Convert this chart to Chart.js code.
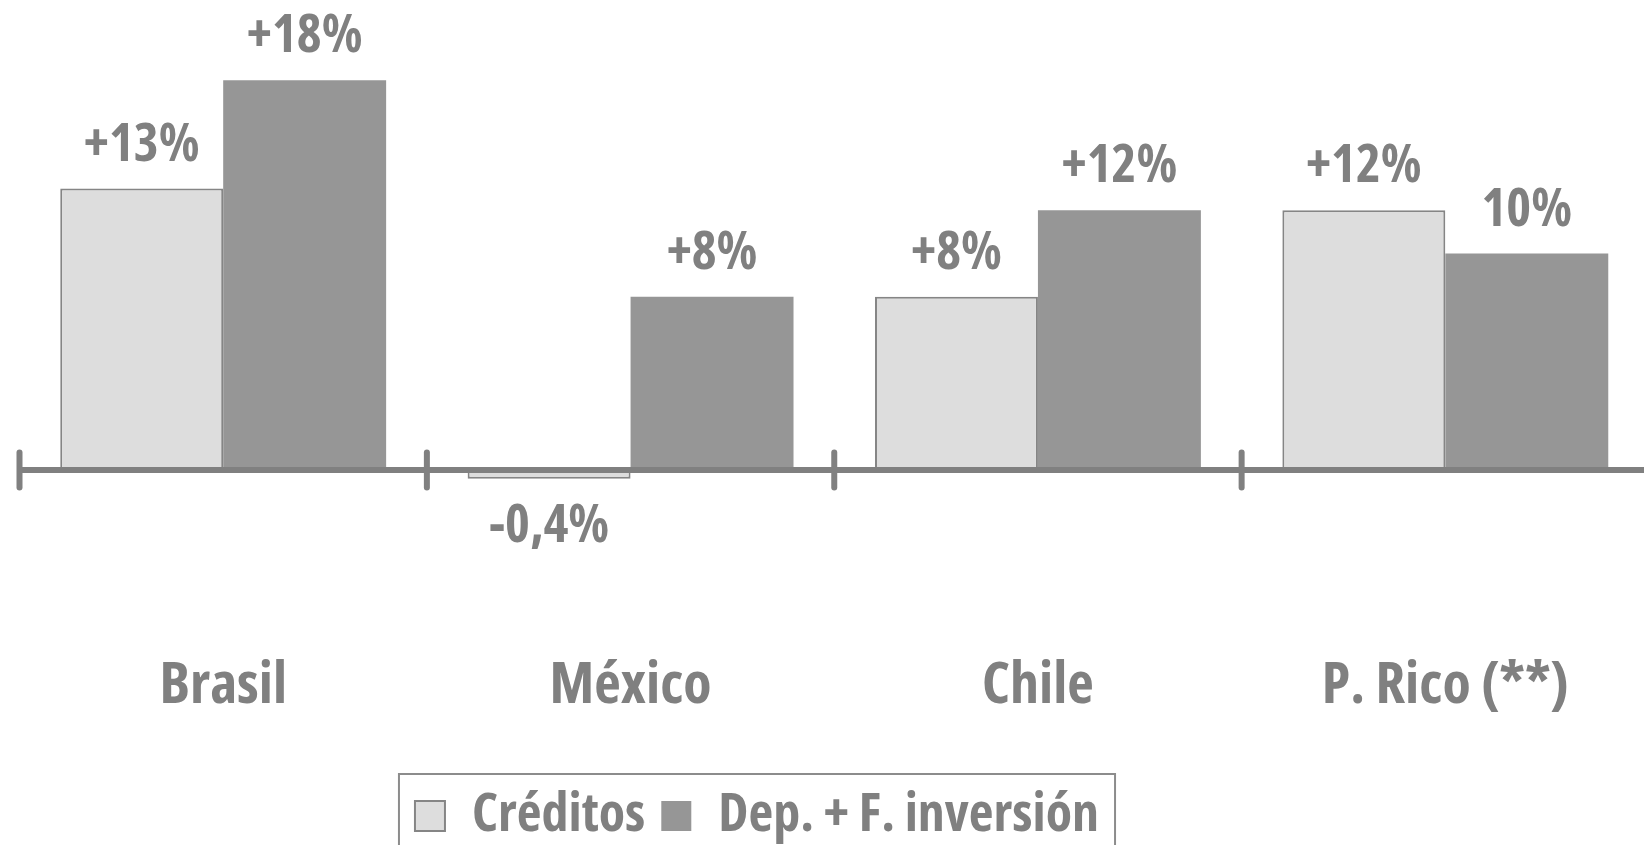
<!DOCTYPE html>
<html>
<head>
<meta charset="utf-8">
<script src="https://cdn.jsdelivr.net/npm/chart.js@4.4.1/dist/chart.umd.min.js"></script>
<style>
  html, body { margin: 0; padding: 0; background: #ffffff; overflow: hidden; }
  #wrap { position: relative; width: 1649px; height: 845px; }
</style>
</head>
<body>
<div id="wrap"><canvas id="c"></canvas></div>
<script>
// ---- data ----
const categories = ['Brasil', 'México', 'Chile', 'P. Rico (**)'];
const seriesNames = ['Créditos', 'Dep. + F. inversión'];
const creditos = [13, -0.4, 8, 12];
const depositos = [18, 8, 12, 10];
const creditosLabels = ['+13%', '-0,4%', '+8%', '+12%'];
const depositosLabels = ['+18%', '+8%', '+12%', '10%'];

// ---- styles ----
const FONT = '"Open Sans", "Liberation Sans Narrow", "DejaVu Sans", sans-serif';
const WEIGHT = 'bold condensed';
const TEXT = '#808080';
const AXIS = '#808080';

const valueLabels = {
  id: 'valueLabels',
  afterDatasetsDraw(chart) {
    const ctx = chart.ctx;
    const texts = [creditosLabels, depositosLabels];
    ctx.save();
    ctx.font = WEIGHT + ' 53px ' + FONT;
    ctx.fillStyle = TEXT;
    ctx.textAlign = 'center';
    ctx.textBaseline = 'alphabetic';
    chart.data.datasets.forEach((ds, di) => {
      const meta = chart.getDatasetMeta(di);
      meta.data.forEach((bar, i) => {
        const v = ds.data[i];
        if (v >= 0) ctx.fillText(texts[di][i], bar.x, bar.y - 28);
        else ctx.fillText(texts[di][i], bar.x, bar.y + 63);
      });
    });
    ctx.restore();
  }
};

const axisTicks = {
  id: 'axisTicks',
  afterDraw(chart) {
    const ctx = chart.ctx;
    const xs = chart.scales.x, ys = chart.scales.y;
    const y0 = ys.getPixelForValue(0);
    ctx.save();
    ctx.strokeStyle = AXIS;
    ctx.lineWidth = 6;
    ctx.lineCap = 'round';
    for (let i = 0; i < categories.length; i++) {
      const x = xs.getPixelForValue(i - 0.5);
      ctx.beginPath();
      ctx.moveTo(x, y0 - 17.5);
      ctx.lineTo(x, y0 + 17.5);
      ctx.stroke();
    }
    ctx.restore();
  }
};

const legendFrame = {
  id: 'legendFrame',
  afterLayout(chart) {
    const lg = chart.legend;
    const target = 757;
    const shift = target - (lg.left + lg.right) / 2;
    lg.left += shift;
    lg.right += shift;
  },
  afterDraw(chart) {
    const hb = chart.legend.legendHitBoxes;
    if (!hb || !hb.length) return;
    const last = hb[hb.length - 1];
    const left = hb[0].left - 16;
    const right = last.left + last.width + 16;
    const top = hb[0].top - 15;
    const ctx = chart.ctx;
    ctx.save();
    ctx.strokeStyle = '#8C8C8C';
    ctx.lineWidth = 2;
    ctx.strokeRect(left, top, right - left, chart.height + 20 - top);
    ctx.restore();
  }
};

new Chart(document.getElementById('c'), {
  type: 'bar',
  data: {
    labels: categories,
    datasets: [
      {
        label: seriesNames[0],
        data: creditos,
        backgroundColor: '#DDDDDD',
        borderColor: '#858585',
        borderWidth: 2,
        categoryPercentage: 0.8,
        barPercentage: 1.0
      },
      {
        label: seriesNames[1],
        data: depositos,
        backgroundColor: '#969696',
        borderColor: '#969696',
        borderWidth: 0,
        categoryPercentage: 0.8,
        barPercentage: 1.0
      }
    ]
  },
  options: {
    responsive: true,
    maintainAspectRatio: false,
    animation: false,
    devicePixelRatio: 1,
    layout: { padding: { top: 37, left: 0, right: 0, bottom: -8 } },
    plugins: {
      tooltip: { enabled: false },
      legend: {
        position: 'bottom',
        labels: {
          boxWidth: 30,
          boxHeight: 30,
          padding: 16,
          color: TEXT,
          font: { family: FONT, size: 54, weight: WEIGHT }
        }
      }
    },
    scales: {
      x: {
        grid: { display: false, drawTicks: false },
        border: { display: false },
        ticks: {
          color: TEXT,
          padding: 2,
          maxRotation: 0,
          autoSkip: false,
          font: { family: FONT, size: 58, weight: WEIGHT, lineHeight: '169px' }
        }
      },
      y: {
        min: -6,
        max: 20,
        z: 1,
        border: { display: false },
        ticks: { display: false, stepSize: 2 },
        grid: {
          drawTicks: false,
          color: (c) => (c.tick && c.tick.value === 0 ? AXIS : 'rgba(0,0,0,0)'),
          lineWidth: (c) => (c.tick && c.tick.value === 0 ? 6 : 0)
        },
        afterFit: (s) => { s.width = 19.5; }
      }
    }
  },
  plugins: [valueLabels, axisTicks, legendFrame]
});
</script>
</body>
</html>
